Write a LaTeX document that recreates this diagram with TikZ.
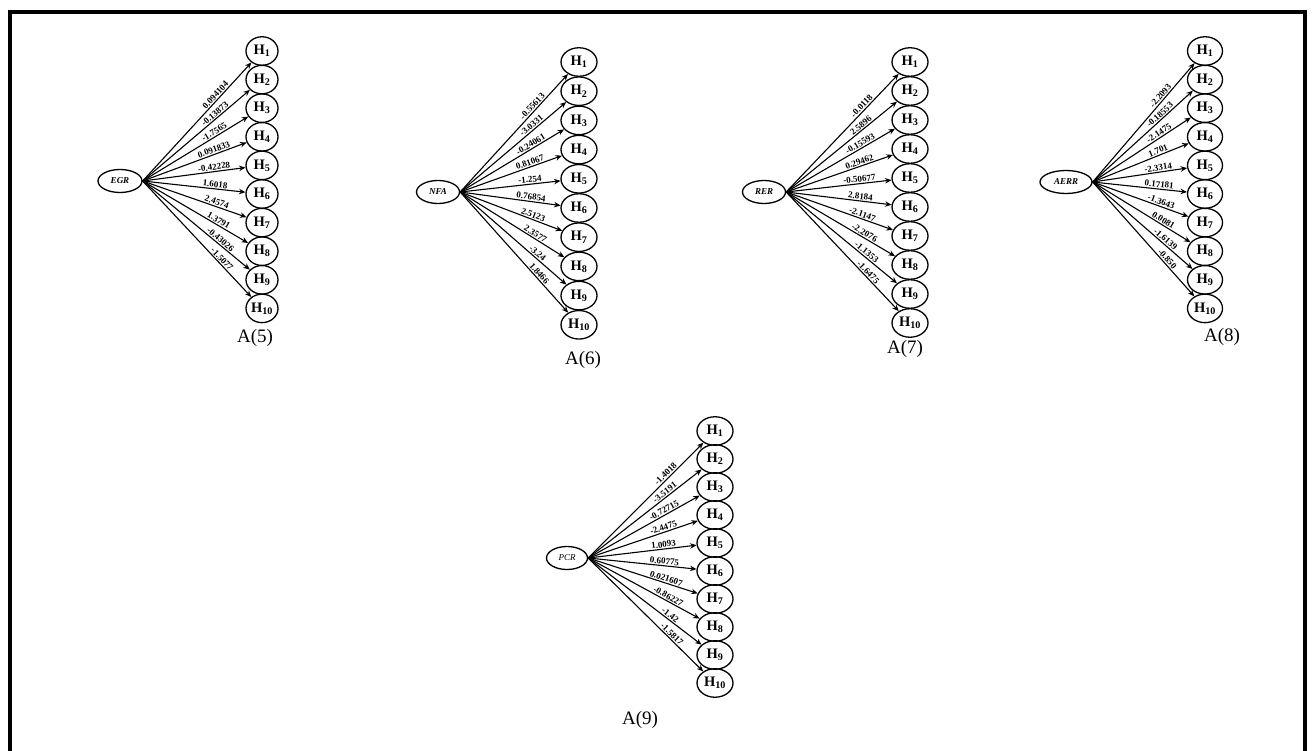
\documentclass[tikz,border=0pt]{standalone}
\usepackage{fontspec}
\newfontfamily\diagfont{Liberation Serif}
\usetikzlibrary{shapes.geometric,arrows.meta}
\tikzset{
  srcnode/.style={ellipse,draw,line width=1.3pt,minimum height=23pt,inner sep=0pt,
    font=\diagfont\bfseries\itshape\fontsize{9}{9}\selectfont},
  hnode/.style={ellipse,draw,line width=1.3pt,minimum height=28.5pt,inner sep=0pt,
    font=\diagfont\bfseries\fontsize{14.5}{14.5}\selectfont},
  link/.style={line width=1.1pt,-{Stealth[length=6.5pt,width=5.5pt]}},
  wlabel/.style={sloped,above,pos=0.7,inner sep=1pt,
    font=\diagfont\bfseries\fontsize{9}{9}\selectfont},
  captext/.style={font=\diagfont\fontsize{19}{19}\selectfont},
  frame/.style={line width=4.5pt},
}
% #1 id, #2 source position, #3 source text, #4 x of the H column,
% #5 y of H1, #6 spacing, #7 weights, #8 H width, #9 source width
\newcommand{\fanplot}[9]{%
  \node[srcnode,minimum width=#9pt] (#1src) at #2 {#3};
  \foreach \wt [count=\idx] in {#7} {
    \node[hnode,minimum width=#8pt] (#1h\idx) at (#4,{#5+(\idx-1)*#6}) {H\textsubscript{\idx}};
    \draw[link] (#1src.east) -- (#1h\idx) node[wlabel] {\wt};
  }%
}
\begin{document}
\begin{tikzpicture}[x=1pt,y=-1pt]
\useasboundingbox (0,0) rectangle (1312,751);
\clip (0,0) rectangle (1312,751);
\fill[white] (0,0) rectangle (1312,751);
\draw[frame] (10,12) rectangle (1305,800);

\fanplot{a}{(120,181)}{EGR}{262}{51}{28.6}%
  {0.094104,-0.13873,-1.7565,0.091833,-0.42228,1.6018,2.4574,1.3791,-0.43026,-1.5077}{32}{44}
\node[captext] (cap5) at (255,338) {A(5)};

\fanplot{b}{(438,192)}{NFA}{579}{62}{29.2}%
  {-0.55613,-3.0331,-0.24061,0.81067,-1.254,0.76854,2.5123,2.3577,-3.24,1.8466}{36}{43}
\node[captext] (cap6) at (583,360) {A(6)};

\fanplot{c}{(764,192)}{RER}{910}{62}{29}%
  {-0.0118,2.5896,-0.15593,0.29462,-0.50677,2.8184,-2.1147,-2.2076,-1.1353,-1.6475}{36}{43}
\node[captext] (cap7) at (905,349) {A(7)};

\fanplot{d}{(1066,182)}{AERR}{1205}{51}{28.6}%
  {-2.2093,-0.18553,-2.1475,1.701,-2.3314,0.17181,-1.3643,0.0081,-1.6139,-0.850}{35}{52}
\node[captext] (cap8) at (1222,337) {A(8)};

\fanplot{e}{(567,558)}{\mdseries PCR}{715}{431}{28}%
  {-1.4018,-3.5191,-0.72715,-2.4475,1.0093,0.60775,0.021607,-0.86227,-1.42,-1.5817}{36}{41}
\node[captext] (cap9) at (640,720) {A(9)};
\end{tikzpicture}
\end{document}
